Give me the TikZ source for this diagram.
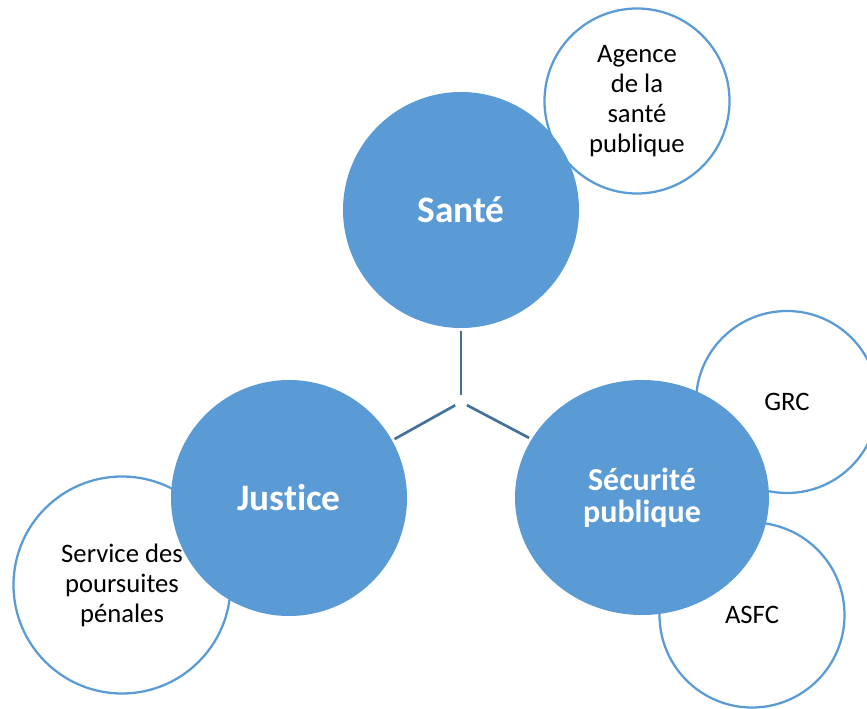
\documentclass[tikz,border=0pt]{standalone}
\usepackage{fontspec}
\setmainfont{Carlito}[Ligatures=NoCommon]
\usetikzlibrary{shapes.geometric}
\definecolor{hubfill}{HTML}{5B9BD5}
\definecolor{hubline}{HTML}{41719C}

\begin{document}
\begin{tikzpicture}[
		x=0.75pt, y=-0.75pt,
		every node/.style={inner sep=0pt, align=center},
		branch/.style={circle, draw=hubfill, line width=1.7pt, fill=white, text=black, font=\fontsize{20}{22.5}\selectfont},
		dept/.style={circle, fill=hubfill, text=white, minimum size=177pt, font=\bfseries\fontsize{28}{32}\selectfont},
		link/.style={draw=hubline, line width=2pt, shorten <=5pt, shorten >=2pt}
		]
		\useasboundingbox (0,0) rectangle (867,709);
		% Satellite circles (behind)
		\node[branch, minimum size=138.75pt] (agence) at (637,101) {Agence\\de la\\santé\\publique};
		\node[branch, minimum size=136.5pt] (grc) at (787,402) {GRC};
		\node[branch, minimum size=138.75pt] (asfc) at (752,615) {ASFC};
		\node[branch, minimum size=162.75pt] (spp) at (122,585) {Service des\\poursuites\\pénales};
		% Main circles
		\node[dept] (sante) at (461,210) {Santé};
		\node[dept] (justice) at (289,498) {Justice};
		\node[dept, ellipse, minimum width=190.5pt, minimum height=176.25pt,
			font=\bfseries\fontsize{24}{24}\selectfont] (securite) at (642,497.5) {Sécurité\\publique};
		% Hub
		\coordinate (hub) at (461,402);
		\draw[link] (hub) -- (sante);
		\draw[link] (hub) -- (justice);
		\draw[link] (hub) -- (securite);
	\end{tikzpicture}
\end{document}
